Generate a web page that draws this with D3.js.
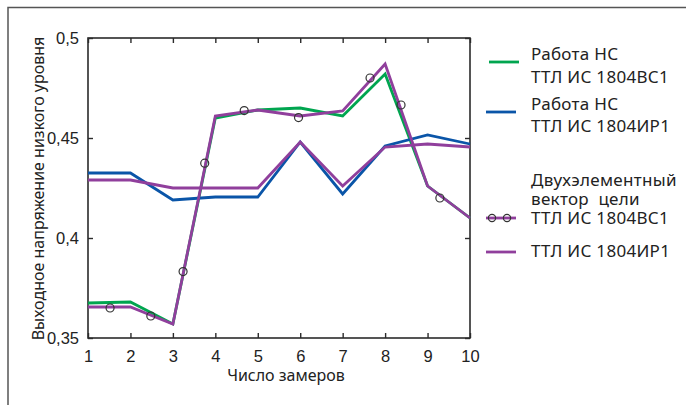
<!DOCTYPE html>
<html><head><meta charset="utf-8">
<script src="https://cdn.jsdelivr.net/npm/d3@7"></script>
<style>
body{margin:0;background:#fff;}
svg{display:block;}
</style></head>
<body>
<svg id="c" width="687" height="405"></svg>
<script>
// ---- data ----
const xs = [1,2,3,4,5,6,7,8,9,10];
const nsVC1 = [0.3675,0.368,0.357,0.460,0.464,0.465,0.461,0.482,0.426,0.410];   // Работа НС ТТЛ ИС 1804ВС1
const nsIR1 = [0.4325,0.4325,0.419,0.4205,0.4205,0.448,0.422,0.446,0.4515,0.447]; // Работа НС ТТЛ ИС 1804ИР1
const vecVC1 = [0.3655,0.3655,0.357,0.461,0.464,0.461,0.4635,0.487,0.426,0.410]; // вектор цели ТТЛ ИС 1804ВС1
const vecIR1 = [0.429,0.429,0.425,0.425,0.425,0.448,0.426,0.4455,0.447,0.4455];  // вектор цели ТТЛ ИС 1804ИР1
const markX = [1.52,2.48,3.24,3.75,4.68,5.96,7.645,8.375,9.29];
const markY = [0.365,0.361,0.3832,0.4374,0.4637,0.4602,0.480,0.4665,0.420];
const xTicks = [1,2,3,4,5,6,7,8,9,10];
const yTicks = [0.35,0.4,0.45,0.5];
const yTickLabels = ["0,35","0,4","0,45","0,5"];
const legendLabels = [["Работа НС","ТТЛ ИС 1804ВС1"],["Работа НС","ТТЛ ИС 1804ИР1"],["Двухэлементный","вектор\u00a0 цели","ТТЛ ИС 1804ВС1"],["ТТЛ ИС 1804ИР1"]];

const GREEN="#00a54f", BLUE="#0a55a8", PURPLE="#903f9c", AX="#2b2b2b";
const svg = d3.select("#c");
const L=88, R=470, T=38, B=338;
const x = d3.scaleLinear().domain([1,10]).range([L,R]);
const y = d3.scaleLinear().domain([0.35,0.5]).range([B,T]);

// outer frame (top & left)
svg.append("path").attr("d",`M8,405V7.5H686`).attr("fill","none").attr("stroke","#555").attr("stroke-width",1.5);

// plot box
svg.append("rect").attr("x",L).attr("y",T).attr("width",R-L).attr("height",B-T)
  .attr("fill","none").attr("stroke",AX).attr("stroke-width",1.6);

const fontTick = "'Liberation Sans', Arial, sans-serif";
const fontText = "'Noto Sans', sans-serif";

// axes
const gb = svg.append("g").attr("transform",`translate(0,${B})`)
  .call(d3.axisBottom(x).tickValues(xTicks).tickFormat(d3.format("d")).tickSize(-5).tickPadding(12));
const gt = svg.append("g").attr("transform",`translate(0,${T})`)
  .call(d3.axisTop(x).tickValues(xTicks).tickFormat("").tickSize(-5));
const gl = svg.append("g").attr("transform",`translate(${L},0)`)
  .call(d3.axisLeft(y).tickValues(yTicks).tickFormat((d,i)=>yTickLabels[i]).tickSize(-5).tickPadding(9));
const gr = svg.append("g").attr("transform",`translate(${R},0)`)
  .call(d3.axisRight(y).tickValues(yTicks).tickFormat("").tickSize(-5));
[gb,gt,gl,gr].forEach(g=>{
  g.select(".domain").remove();
  g.selectAll(".tick line").attr("stroke",AX).attr("stroke-width",1.4);
  g.selectAll("text").attr("fill","#222").attr("font-family",fontTick).attr("font-size",16.5);
});

// lines
const line = d3.line().x((d,i)=>x(xs[i])).y(d=>y(d));
function draw(data,color){
  svg.append("path").datum(data).attr("d",line).attr("fill","none")
    .attr("stroke",color).attr("stroke-width",2.8).attr("stroke-linejoin","miter");
}
draw(nsVC1,GREEN);
draw(nsIR1,BLUE);
draw(vecIR1,PURPLE);
draw(vecVC1,PURPLE);

// markers
svg.append("g").selectAll("circle").data(markX).join("circle")
  .attr("cx",d=>x(d)).attr("cy",(d,i)=>y(markY[i])).attr("r",4)
  .attr("fill","none").attr("stroke","#333").attr("stroke-width",1.2);

// axis titles
svg.append("text").attr("x",286).attr("y",375).attr("dy","0.35em").attr("text-anchor","middle")
  .attr("font-family",fontText).attr("font-size",16).attr("fill","#222").text("Число замеров");
svg.append("text").attr("transform","translate(38.5,188.5) rotate(-90)").attr("dy","0.35em").attr("text-anchor","middle")
  .attr("font-family",fontText).attr("font-size",16).attr("fill","#222").text("Выходное напряжение низкого уровня");

// legend
const legend = svg.append("g");
const lg = [
  {color:GREEN, x1:489,x2:519, ly:62, rows:[54.5,77], marks:false},
  {color:BLUE, x1:486,x2:516, ly:112, rows:[104,126], marks:false},
  {color:PURPLE, x1:486,x2:516, ly:218, rows:[180,199.5,218], marks:true},
  {color:PURPLE, x1:486,x2:516, ly:252, rows:[251], marks:false}
];
lg.forEach((it,k)=>{
  legend.append("line").attr("x1",it.x1).attr("x2",it.x2).attr("y1",it.ly).attr("y2",it.ly)
    .attr("stroke",it.color).attr("stroke-width",2.8);
  if(it.marks){
    [492,507].forEach(cx=>legend.append("circle").attr("cx",cx).attr("cy",it.ly).attr("r",3.6)
      .attr("fill","none").attr("stroke","#333").attr("stroke-width",1.2));
  }
  it.rows.forEach((ry,j)=>{
    legend.append("text").attr("x",531).attr("y",ry).attr("dy","0.35em")
      .attr("font-family",fontText).attr("font-size",17).attr("letter-spacing",0.3)
      .attr("fill","#222").text(legendLabels[k][j]);
  });
});
</script>
</body></html>
